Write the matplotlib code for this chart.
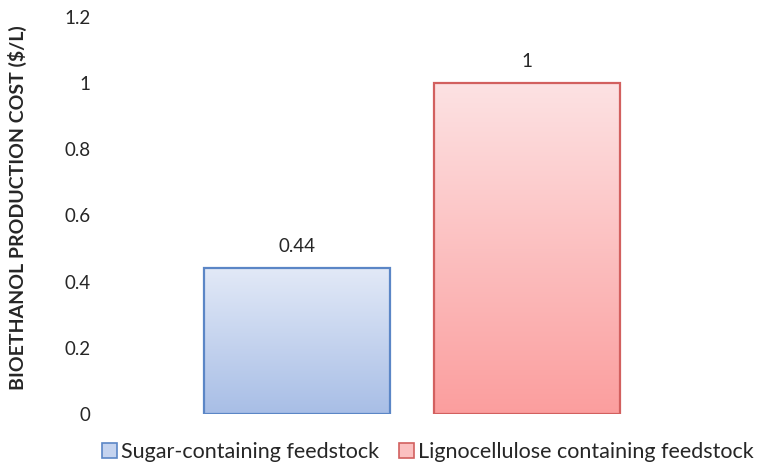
import numpy as np
import matplotlib
matplotlib.use("Agg")
import matplotlib.pyplot as plt
import matplotlib.patches as mpatches
from matplotlib.colors import LinearSegmentedColormap

# ── Data ──────────────────────────────────────────────────────────────────────
series = ["Sugar-containing feedstock", "Lignocellulose containing feedstock"]
costs = [0.44, 1.0]
labels = ["0.44", "1"]

# gradient (top, bottom) and edge colours per series
grad_top = ["#E2E9F7", "#FDE2E3"]
grad_bottom = ["#A8BEE6", "#FB9E9E"]
edges = ["#5B86C6", "#D2605F"]

plt.rcParams["font.family"] = ["Lato", "DejaVu Sans"]

fig = plt.figure(figsize=(7.62, 4.68), dpi=100)
ax = fig.add_axes([100 / 762, 54 / 468, 640 / 762, 397 / 468])

x = np.arange(len(costs))
width = 0.81
bars = ax.bar(x, costs, width=width, color="none", edgecolor="none", zorder=2)

# gradient fills clipped to each bar
for bar, top, bot, edge in zip(bars, grad_top, grad_bottom, edges):
    x0, y0 = bar.get_x(), bar.get_y()
    w, h = bar.get_width(), bar.get_height()
    cmap = LinearSegmentedColormap.from_list("g", [bot, top])
    grad = np.linspace(0, 1, 256).reshape(-1, 1)
    im = ax.imshow(grad, cmap=cmap, origin="lower", aspect="auto",
                   extent=[x0, x0 + w, y0, y0 + h], zorder=2)
    im.set_clip_path(bar)
    ax.add_patch(mpatches.Rectangle((x0, y0), w, h, fill=False,
                                    edgecolor=edge, linewidth=1.6, zorder=3))

for xi, v, lab in zip(x, costs, labels):
    ax.text(xi, v + 0.04, lab, ha="center", va="bottom",
            fontsize=13.5, color="#262626")

ax.set_xlim((100 - 297) / 230, (740 - 297) / 230)
ax.set_ylim(0, 1.2)
ax.set_yticks([0, 0.2, 0.4, 0.6, 0.8, 1.0, 1.2])
ax.set_yticklabels(["0", "0.2", "0.4", "0.6", "0.8", "1", "1.2"])
ax.tick_params(axis="y", length=0, labelsize=13.5, labelcolor="#262626", pad=7)
ax.set_xticks([])
for s in ax.spines.values():
    s.set_visible(False)

fig.text(17 / 762, 1 - 208 / 468, "BIOETHANOL PRODUCTION COST ($/L)",
         rotation=90, ha="center", va="center", fontsize=14,
         fontweight="bold", color="#262626")

handles = [mpatches.Patch(facecolor=c, edgecolor=e, linewidth=1.2, label=s)
           for c, e, s in zip(["#C4D3EF", "#FBC0C0"], edges, series)]
fig.legend(handles=handles, loc="center", bbox_to_anchor=(428 / 762, 1 - 452 / 468),
           ncol=2, frameon=False, fontsize=15.5, handlelength=0.7, handleheight=0.7,
           handletextpad=0.2, columnspacing=0.9, labelcolor="#262626")

fig.savefig("out.png", dpi=100)
